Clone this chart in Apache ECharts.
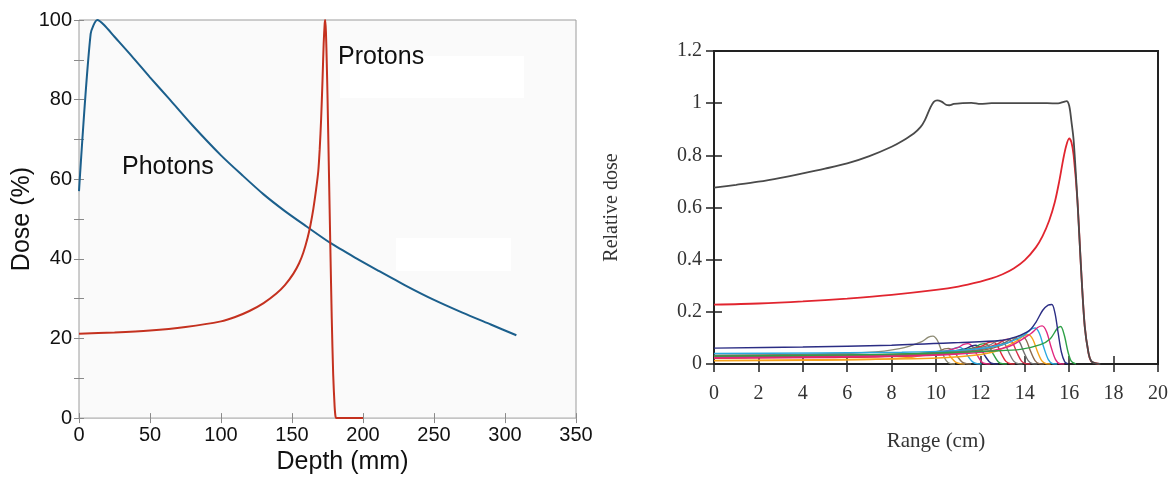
<!DOCTYPE html>
<html>
<head>
<meta charset="utf-8">
<script src="https://cdn.jsdelivr.net/npm/echarts@6/dist/echarts.min.js"></script>
<style>
  html, body { margin: 0; padding: 0; background: #ffffff; }
  #chart { width: 1173px; height: 480px; }
</style>
</head>
<body>
<div id="chart"></div>
<script>
// ---- Left panel: depth-dose in water, photons vs protons ----
const photonDepth = [0, 8.2, 12.9, 17.5, 25, 37, 50, 64, 80, 100, 115, 130, 145, 160, 177, 195, 210, 230, 250, 270, 290, 308];
const photonDose  = [57, 96.5, 100, 98.8, 95.8, 91, 85.6, 80, 73.5, 66, 61, 56.2, 52, 48.2, 44, 40.2, 37.2, 33.3, 29.7, 26.5, 23.5, 20.8];

const protonDepth = [0, 25, 50, 75, 100, 110, 120, 130, 139, 145, 151, 155, 158, 161, 163, 165, 167, 168.5, 169.5, 170.5, 171.5, 172.3, 173, 173.4, 173.9, 174.5, 175, 176, 177, 178, 179, 180, 180.7, 181.5, 200];
const protonDose  = [21.2, 21.5, 22, 22.9, 24.3, 25.4, 26.9, 28.9, 31.3, 33.4, 36.3, 38.9, 41.6, 45.3, 48.5, 52.5, 57.5, 62, 67.5, 75, 85, 94, 99, 100, 97, 89, 81, 62, 43, 25, 11, 3, 0.3, 0, 0];

const depthTicks = [0, 350, 50];   // min, max, step (mm)
const doseTicks  = [0, 100, 10];   // min, max, step (%), labelled every 20

// ---- Right panel: spread-out Bragg peak and its weighted pristine peaks ----
const rangeTicks = [0, 20, 2];     // cm
const relTicks   = [0, 1.2, 0.2];

const sobp = [[0,0.676],[1,0.687],[2,0.699],[3,0.714],[4,0.731],[5,0.749],[6,0.769],[7,0.797],[8,0.833],[8.5,0.856],[9,0.884],[9.3,0.908],[9.5,0.935],[9.75,0.984],[9.9,1.005],[10.05,1.011],[10.25,1.006],[10.45,0.994],[10.6,0.992],[10.8,0.997],[11.2,1.0],[11.6,1.001],[12,0.997],[12.5,1.0],[13,1.0],[14,1.0],[15,1.0],[15.5,0.999],[15.75,1.005],[15.88,1.008],[16.0,0.99],[16.1,0.93],[16.2,0.858],[16.37,0.628],[16.53,0.373],[16.7,0.144],[16.87,0.042],[17.0,0.01],[17.2,0.002],[17.4,0]];

const peakRed = [[0,0.228],[2,0.232],[4,0.24],[6,0.251],[8,0.265],[10,0.284],[11,0.297],[12,0.316],[12.5,0.328],[13,0.344],[13.5,0.366],[14,0.398],[14.5,0.447],[14.8,0.49],[15.1,0.55],[15.35,0.62],[15.55,0.7],[15.72,0.78],[15.86,0.835],[16.0,0.865],[16.1,0.85],[16.2,0.8],[16.37,0.628],[16.53,0.373],[16.7,0.144],[16.87,0.042],[17.0,0.01],[17.35,0]];

const peakNavy = [[0,0.061],[4,0.065],[8,0.072],[11,0.082],[12.9,0.09],[13.6,0.104],[14.2,0.128],[14.5,0.16],[14.8,0.205],[15.05,0.226],[15.22,0.228],[15.36,0.195],[15.5,0.12],[15.65,0.045],[15.8,0.008],[15.95,0]];

const peakGreen2 = [[0,0.03],[6,0.035],[10,0.042],[12.5,0.05],[13.8,0.056],[14.7,0.074],[15.15,0.097],[15.45,0.135],[15.62,0.144],[15.78,0.11],[15.95,0.045],[16.1,0.01],[16.3,0]];

const peakMagenta2 = [[0,0.025],[8.78,0.031],[11.78,0.043],[13.28,0.067],[14.28,0.117],[14.58,0.14],[14.78,0.146],[14.98,0.124],[15.18,0.066],[15.38,0.018],[15.58,0.001],[15.78,0]];
const peakBlue2    = [[0,0.04],[8.46,0.045],[11.46,0.055],[12.96,0.074],[13.96,0.11],[14.26,0.132],[14.46,0.138],[14.66,0.117],[14.86,0.062],[15.06,0.017],[15.26,0.001],[15.46,0]];
const peakOrange2  = [[0,0.014],[8.16,0.019],[11.16,0.029],[12.66,0.048],[13.66,0.09],[13.96,0.108],[14.16,0.112],[14.36,0.095],[14.56,0.05],[14.76,0.013],[14.96,0.001],[15.16,0]];
const peakBrown2   = [[0,0.03],[7.86,0.034],[10.86,0.042],[12.36,0.057],[13.36,0.086],[13.66,0.104],[13.86,0.108],[14.06,0.092],[14.26,0.049],[14.46,0.013],[14.66,0.001],[14.86,0]];
const peakGray3    = [[0,0.033],[7.56,0.036],[10.56,0.043],[12.06,0.056],[13.06,0.08],[13.36,0.096],[13.56,0.1],[13.76,0.085],[13.96,0.045],[14.16,0.012],[14.36,0.001],[14.56,0]];
const peakRed2     = [[0,0.025],[7.25,0.029],[10.25,0.036],[11.75,0.05],[12.75,0.076],[13.05,0.091],[13.25,0.095],[13.45,0.081],[13.65,0.043],[13.85,0.011],[14.05,0.001],[14.25,0]];
const peakGray2    = [[0,0.032],[6.9,0.035],[9.9,0.041],[11.4,0.052],[12.4,0.072],[12.7,0.086],[12.9,0.09],[13.1,0.077],[13.3,0.041],[13.5,0.011],[13.7,0.001],[13.9,0]];
const peakRed1     = [[0,0.024],[6.55,0.027],[9.55,0.033],[11.05,0.045],[12.05,0.068],[12.35,0.082],[12.55,0.085],[12.75,0.072],[12.95,0.038],[13.15,0.01],[13.35,0.001],[13.55,0]];
const peakGreen1   = [[0,0.03],[6.2,0.032],[9.2,0.037],[10.7,0.047],[11.7,0.062],[12.0,0.075],[12.2,0.078],[12.4,0.066],[12.6,0.035],[12.8,0.009],[13.0,0.001],[13.2,0]];
const peakNavy1    = [[0,0.03],[5.8,0.032],[8.8,0.036],[10.3,0.045],[11.3,0.058],[11.6,0.069],[11.8,0.072],[12.0,0.061],[12.2,0.032],[12.4,0.009],[12.6,0.001],[12.8,0]];
const peakMagenta1 = [[0,0.022],[5.45,0.025],[8.45,0.03],[9.95,0.042],[10.95,0.062],[11.25,0.075],[11.45,0.078],[11.65,0.066],[11.85,0.035],[12.05,0.009],[12.25,0.001],[12.45,0]];
const peakBlue1    = [[0,0.028],[5.05,0.03],[8.05,0.033],[9.55,0.041],[10.55,0.051],[10.85,0.061],[11.05,0.064],[11.25,0.054],[11.45,0.029],[11.65,0.008],[11.85,0.001],[12.05,0]];
const peakBrown1   = [[0,0.027],[4.58,0.029],[7.58,0.032],[9.08,0.039],[10.08,0.048],[10.38,0.058],[10.58,0.06],[10.78,0.051],[10.98,0.027],[11.18,0.007],[11.38,0.001],[11.58,0]];
const peakOrange1  = [[0,0.012],[4.3,0.014],[7.3,0.018],[8.8,0.025],[9.8,0.04],[10.1,0.048],[10.3,0.05],[10.5,0.043],[10.7,0.023],[10.9,0.006],[11.1,0.001],[11.3,0]];
const peakGray1    = [[0,0.033],[3.86,0.037],[6.86,0.044],[8.36,0.059],[9.36,0.086],[9.66,0.103],[9.86,0.107],[10.06,0.091],[10.26,0.048],[10.46,0.013],[10.66,0.001],[10.86,0]];

// pristine peaks listed with their line colours, shallow to deep
const pristine = [
  [peakGray1, '#8d8b74'], [peakOrange1, '#f4a21e'], [peakBrown1, '#8c735a'], [peakBlue1, '#2ba7e0'],
  [peakMagenta1, '#e0287e'], [peakNavy1, '#2b2e80'], [peakGreen1, '#2f9e45'], [peakRed1, '#e0283a'],
  [peakGray2, '#7b7b7b'], [peakRed2, '#d8304a'], [peakGray3, '#6f6f6f'], [peakBrown2, '#8c6a50'],
  [peakOrange2, '#f5a31a'], [peakBlue2, '#29a9e1'], [peakMagenta2, '#e2267f'],
  [peakGreen2, '#2da046'], [peakNavy, '#2b2d84'], [peakRed, '#e1252f'], [sobp, '#4a4a4a']
];

const sans  = 'Liberation Sans, Arial, sans-serif';
const serif = 'Liberation Serif, Times New Roman, serif';

const zip = (xs, ys) => xs.map((x, i) => [x, ys[i]]);

function leftAxisX(pos, showLabel) {
  return {
    type: 'value', gridIndex: 0, position: pos,
    min: depthTicks[0], max: depthTicks[1], interval: depthTicks[2],
    axisLine: { show: false },
    axisTick: { show: true, inside: true, length: 5, lineStyle: { color: '#8a8a8a', width: 1 } },
    axisLabel: { show: showLabel, fontFamily: sans, fontSize: 20, color: '#111', margin: 7 },
    splitLine: { show: false },
    name: showLabel ? 'Depth (mm)' : '', nameLocation: 'middle', nameGap: 29,
    nameTextStyle: { fontFamily: sans, fontSize: 25, color: '#111', padding: [0, 0, 0, 30] }
  };
}
function leftAxisY(pos, showLabel) {
  return {
    type: 'value', gridIndex: 0, position: pos,
    min: doseTicks[0], max: doseTicks[1], interval: doseTicks[2],
    axisLine: { show: false },
    axisTick: { show: true, inside: true, length: 5, lineStyle: { color: '#8a8a8a', width: 1 } },
    axisLabel: { show: showLabel, fontFamily: sans, fontSize: 20, color: '#111', margin: 7,
                 formatter: v => (v % 20 === 0 ? String(v) : '') },
    splitLine: { show: false },
    name: showLabel ? 'Dose (%)' : '', nameLocation: 'middle', nameGap: 41,
    nameTextStyle: { fontFamily: sans, fontSize: 25, color: '#111' }
  };
}
function rightAxisX(pos, showLabel) {
  return {
    type: 'value', gridIndex: 1, position: pos,
    min: rangeTicks[0], max: rangeTicks[1], interval: rangeTicks[2],
    axisLine: { show: false },
    axisTick: { show: true, inside: true, length: 8, lineStyle: { color: '#222', width: 1.5 } },
    axisLabel: { show: showLabel, fontFamily: serif, fontSize: 20, color: '#333', margin: 20 },
    splitLine: { show: false },
    name: showLabel ? 'Range (cm)' : '', nameLocation: 'middle', nameGap: 67,
    nameTextStyle: { fontFamily: serif, fontSize: 21, color: '#333' }
  };
}
function rightAxisY(pos, showLabel) {
  return {
    type: 'value', gridIndex: 1, position: pos,
    min: relTicks[0], max: relTicks[1], interval: relTicks[2],
    axisLine: { show: false },
    axisTick: { show: true, inside: true, length: 8, lineStyle: { color: '#222', width: 1.5 } },
    axisLabel: { show: showLabel, fontFamily: serif, fontSize: 20, color: '#333', margin: 12 },
    splitLine: { show: false },
    name: showLabel ? 'Relative dose' : '', nameLocation: 'middle', nameGap: 92,
    nameTextStyle: { fontFamily: serif, fontSize: 20, color: '#333' }
  };
}

const series = [
  { type: 'line', xAxisIndex: 0, yAxisIndex: 0, data: zip(photonDepth, photonDose),
    symbol: 'none', smooth: 0.25, lineStyle: { color: '#1b5f8c', width: 2 }, z: 3 },
  { type: 'line', xAxisIndex: 0, yAxisIndex: 0, data: zip(protonDepth, protonDose),
    symbol: 'none', smooth: 0.25, lineStyle: { color: '#c4311f', width: 2 }, z: 3 }
];
pristine.forEach(([pts, color], i) => {
  const main = i >= pristine.length - 2;
  series.push({
    type: 'line', xAxisIndex: 2, yAxisIndex: 2, data: pts,
    symbol: 'none', smooth: 0.3,
    lineStyle: { color: color, width: main ? 1.8 : 1.4 }, z: 3 + i
  });
});

const chart = echarts.init(document.getElementById('chart'), null, { renderer: 'canvas' });
chart.setOption({
  animation: false,
  backgroundColor: '#ffffff',
  grid: [
    { left: 79, top: 20, right: 597, bottom: 57, show: true, backgroundColor: '#fafafa',
      borderColor: '#9c9c9c', borderWidth: 1 },
    { left: 714, top: 51, right: 15, bottom: 116, show: true, backgroundColor: '#ffffff',
      borderColor: '#222', borderWidth: 2 }
  ],
  xAxis: [leftAxisX('bottom', true), leftAxisX('top', false), rightAxisX('bottom', true), rightAxisX('top', false)],
  yAxis: [leftAxisY('left', true), leftAxisY('right', false), rightAxisY('left', true), rightAxisY('right', false)],
  graphic: [
    { type: 'rect', left: 340, top: 56, shape: { width: 184, height: 42 }, style: { fill: '#ffffff' }, z: 1, silent: true },
    { type: 'rect', left: 396, top: 238, shape: { width: 115, height: 33 }, style: { fill: '#ffffff' }, z: 1, silent: true },
    { type: 'text', left: 122, top: 155, z: 10, style: { text: 'Photons', font: '25px ' + sans, fill: '#111' } },
    { type: 'text', left: 338, top: 45, z: 10, style: { text: 'Protons', font: '25px ' + sans, fill: '#111' } }
  ],
  series: series
});
</script>
</body>
</html>
